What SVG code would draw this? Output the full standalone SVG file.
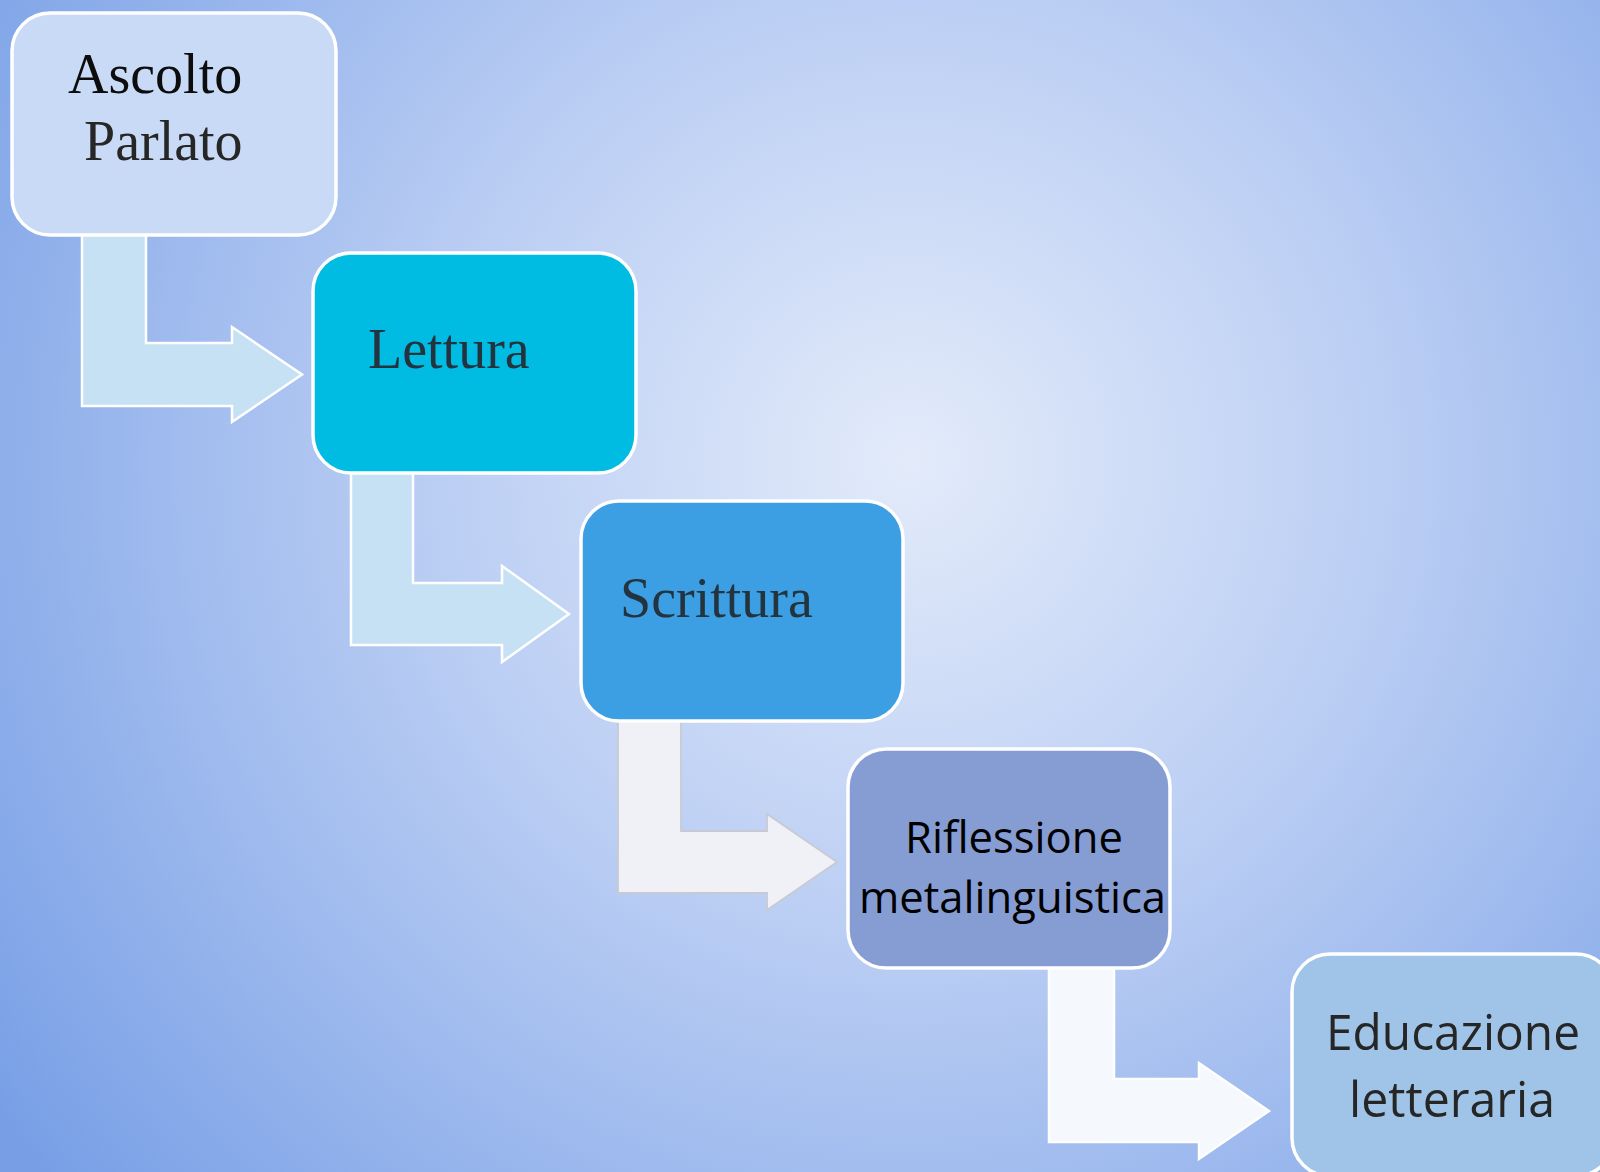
<svg xmlns="http://www.w3.org/2000/svg" width="1600" height="1172" viewBox="0 0 1600 1172">
<defs>
<radialGradient id="bg" gradientUnits="userSpaceOnUse" cx="910" cy="460" r="1120">
<stop offset="0" stop-color="#e3ebfa"/>
<stop offset="0.45" stop-color="#b8ccf3"/>
<stop offset="1" stop-color="#789fe6"/>
</radialGradient>
<style>
.box{stroke:#ffffff;stroke-width:3.5}
.arr{stroke:#ffffff;stroke-width:2.5;stroke-linejoin:miter}
.serif{font-family:"Liberation Serif","Times New Roman",serif;font-size:56px}
.sans{font-family:"Open Sans","Noto Sans","Liberation Sans",sans-serif}
</style>
</defs>
<rect x="0" y="0" width="1600" height="1172" fill="url(#bg)"/>
<g id="connectors">
<path class="arr" fill="#c6e1f3" d="M82,232 L146,232 L146,343 L232,343 L232,327 L302,374.5 L232,422 L232,406 L82,406 Z"/>
<path class="arr" fill="#c6e1f3" d="M351,470 L413,470 L413,583 L502,583 L502,566 L569,614 L502,662 L502,645 L351,645 Z"/>
<path fill="#eff1f7" stroke="#c7cad3" stroke-width="1.8" d="M618,718 L681,718 L681,831 L767,831 L767,814 L837,862 L767,910 L767,893 L618,893 Z"/>
<path class="arr" fill="#f5f8fd" d="M1049,966 L1114,966 L1114,1079 L1199,1079 L1199,1063 L1269,1111 L1199,1159 L1199,1142 L1049,1142 Z"/>
</g>
<g id="node-ascolto">
<rect class="box" x="12" y="13" width="324" height="222" rx="38" fill="#c9daf6"/>
<text class="serif" x="68" y="93" fill="#0d0d0d">Ascolto</text>
<text class="serif" x="84" y="160" fill="#262626">Parlato</text>
</g>
<g id="node-lettura">
<rect class="box" x="313" y="253" width="323" height="220" rx="38" fill="#00bce3"/>
<text class="serif" x="368" y="368" fill="#24343f">Lettura</text>
</g>
<g id="node-scrittura">
<rect class="box" x="581" y="501" width="322" height="220" rx="38" fill="#3c9fe3"/>
<text class="serif" x="620" y="617" fill="#24343f">Scrittura</text>
</g>
<g id="node-riflessione">
<rect class="box" x="848" y="749" width="322" height="219" rx="38" fill="#869dd4"/>
<text class="sans" x="905" y="853" font-size="44" fill="#000000" textLength="218" lengthAdjust="spacingAndGlyphs">Riflessione</text>
<text class="sans" x="859" y="913" font-size="44" fill="#000000" textLength="307" lengthAdjust="spacingAndGlyphs">metalinguistica</text>
</g>
<g id="node-educazione">
<rect class="box" x="1292" y="954" width="322" height="222" rx="38" fill="#9fc4e8"/>
<text class="sans" x="1326" y="1050" font-size="50" fill="#262626" textLength="254" lengthAdjust="spacingAndGlyphs">Educazione</text>
<text class="sans" x="1349" y="1117" font-size="50" fill="#262626" textLength="206" lengthAdjust="spacingAndGlyphs">letteraria</text>
</g>
</svg>
